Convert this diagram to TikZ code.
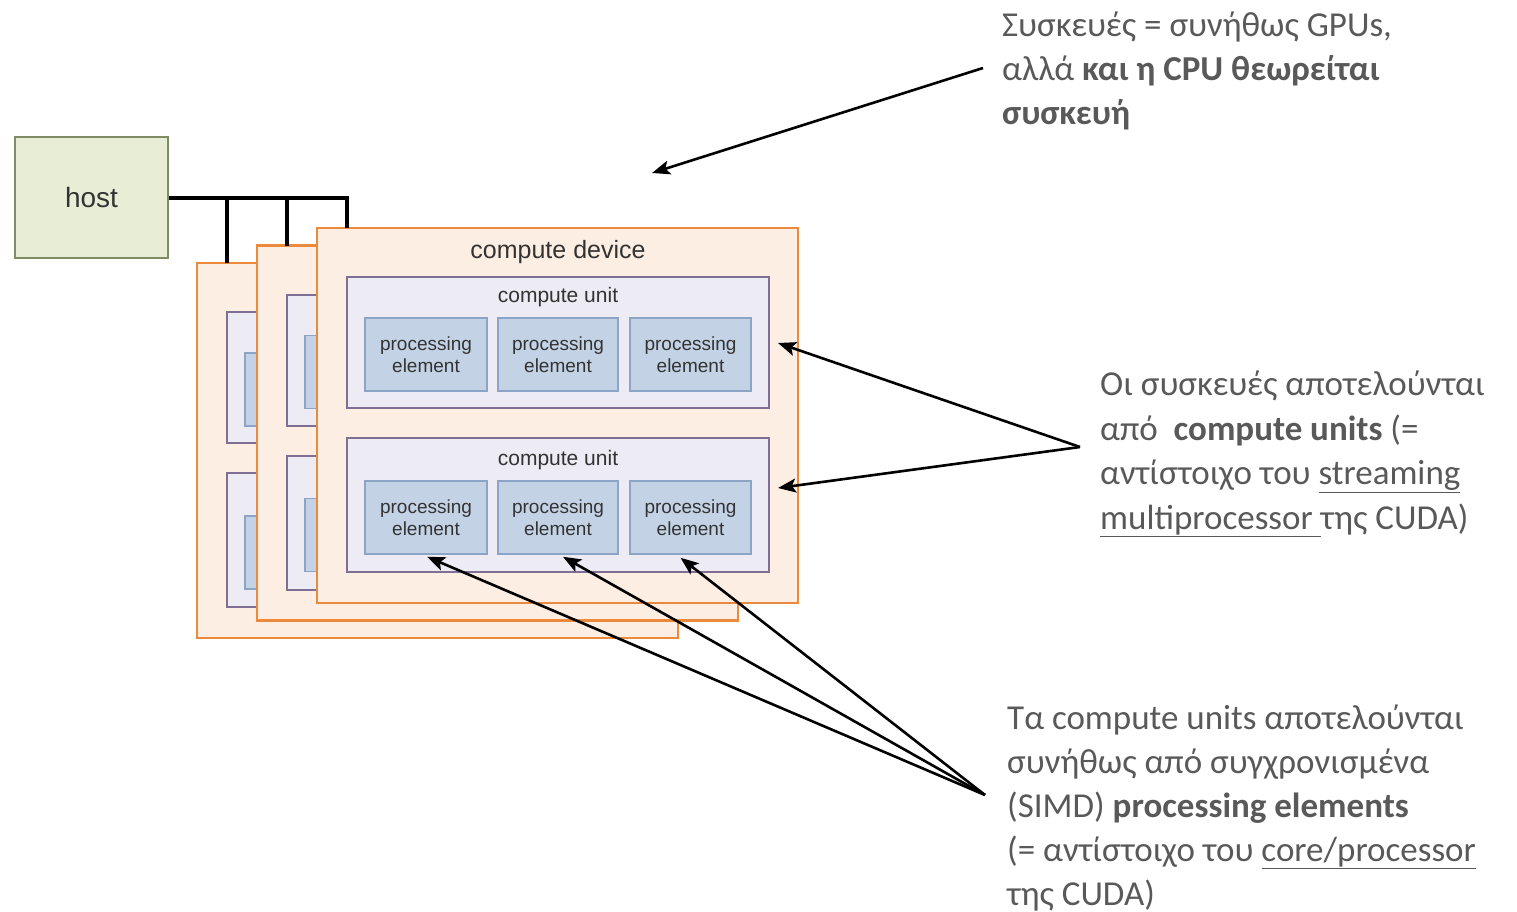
\documentclass[tikz,border=0pt]{standalone}
\usepackage{fontspec}
\setmainfont{Liberation Sans}
\newfontfamily\annfont{Carlito}
\usetikzlibrary{arrows.meta,calc}
\definecolor{hostfill}{HTML}{E8EDD5}
\definecolor{hostdraw}{HTML}{7F8C63}
\definecolor{cardfill}{HTML}{FDEEE3}
\definecolor{carddraw}{HTML}{EB8A3D}
\definecolor{cufill}{HTML}{EDEBF3}
\definecolor{cudraw}{HTML}{7F6F95}
\definecolor{pefill}{HTML}{C4D2E6}
\definecolor{pedraw}{HTML}{8CA5C6}
\definecolor{dtext}{HTML}{333333}
\definecolor{ann}{HTML}{595959}
\tikzset{
  hostbox/.style={draw=hostdraw,fill=hostfill,line width=2pt,minimum width=153pt,minimum height=121pt,inner sep=0pt,text=dtext,font=\fontsize{28}{32}\selectfont},
  cardbox/.style={draw=carddraw,fill=cardfill,line width=2.5pt},
  cubox/.style={draw=cudraw,fill=cufill,line width=2pt},
  pebox/.style={draw=pedraw,fill=pefill,line width=1.5pt,inner sep=0pt,minimum height=73pt,align=center,text=dtext,font=\fontsize{19}{22}\selectfont},
  lbl/.style={inner sep=0pt,text=dtext},
  bus/.style={line width=4pt,black},
  pointer/.style={line width=2.6pt,black,-{Stealth[length=18pt,width=14pt,inset=4pt]}},
  anntext/.style={anchor=base west,inner sep=0pt,text=ann,font=\annfont\fontsize{35}{40}\selectfont},
}
% #1,#2: top-left corner; #3: name prefix; #4: labels (1) or none (0)
\newcommand{\devicecard}[4]{%
\begin{scope}[shift={(#1,#2)}]
  \path[cardbox] (0,0) rectangle (481,375);
  \coordinate (#3-port) at (30,0);
  \path[cubox] (30,49) rectangle (452,180);
  \path[cubox] (30,210) rectangle (452,344);
  \ifnum#4=1
    \node[lbl,font=\fontsize{25}{28}\selectfont] (#3-dev) at (241,24) {compute device};
    \node[lbl,font=\fontsize{21}{24}\selectfont] (#3-cua) at (241,69) {compute unit};
    \node[lbl,font=\fontsize{21}{24}\selectfont] (#3-cub) at (241,232) {compute unit};
    \node[pebox,minimum width=122pt] (#3-pa1) at (109,126.5) {processing\\element};
    \node[pebox,minimum width=120pt] (#3-pa2) at (241,126.5) {processing\\element};
    \node[pebox,minimum width=121pt] (#3-pa3) at (373.5,126.5) {processing\\element};
    \node[pebox,minimum width=122pt] (#3-pb1) at (109,289.5) {processing\\element};
    \node[pebox,minimum width=120pt] (#3-pb2) at (241,289.5) {processing\\element};
    \node[pebox,minimum width=121pt] (#3-pb3) at (373.5,289.5) {processing\\element};
  \else
    \node[pebox,minimum width=122pt] (#3-pa1) at (109,126.5) {};
    \node[pebox,minimum width=122pt] (#3-pb1) at (109,289.5) {};
  \fi
\end{scope}}
\begin{document}
\begin{tikzpicture}[x=1pt,y=-1pt]
\useasboundingbox[fill=white] (0,0) rectangle (1517,911);
% host
\node[hostbox] (host) at (91.5,197.5) {host};
% device cards, back to front
\devicecard{197}{263}{b}{0}
\devicecard{257}{245.5}{m}{0}
\devicecard{317}{228}{f}{1}
% bus
\draw[bus] (host.east) -| (f-port);
\draw[bus] (b-port) -- (b-port |- host.east);
\draw[bus] (m-port) -- (m-port |- host.east);
% annotations
\node[anntext] (a1) at (1002,36) {Συσκευές = συνήθως GPUs,};
\node[anntext] (a2) at (1002,80) {αλλά \textbf{και η CPU θεωρείται}};
\node[anntext] (a3) at (1002,124) {\textbf{συσκευή}};
\node[anntext] (b1) at (1100,395) {Οι συσκευές αποτελούνται};
\node[anntext] (b2) at (1100,440) {από\ \ \textbf{compute units} (=};
\node[anntext] (b3) at (1100,484.5) {αντίστοιχο του \underline{streaming}};
\node[anntext] (b4) at (1100,529) {\underline{multiprocessor }της CUDA)};
\node[anntext] (c1) at (1007,729) {Τα compute units αποτελούνται};
\node[anntext] (c2) at (1007,773) {συνήθως από συγχρονισμένα};
\node[anntext] (c3) at (1007,817) {(SIMD) \textbf{processing elements}};
\node[anntext] (c4) at (1007,861) {(= αντίστοιχο του \underline{core/processor}};
\node[anntext] (c5) at (1007,905) {της CUDA)};
% pointer origins and targets
\coordinate (s1) at (983,68);
\coordinate (t1) at (652,173);
\coordinate (s2) at (1080,447);
\coordinate (t2a) at ($(f-cua.center)+(220,46)$);
\coordinate (t2b) at ($(f-cub.center)+(220,28)$);
\coordinate (s3) at (985,795);
\coordinate (t3a) at ($(f-pb1.south)+(1,2)$);
\coordinate (t3b) at ($(f-pb2.south)+(5,2)$);
\coordinate (t3c) at ($(f-pb3.south)+(-10,3)$);
\draw[pointer] (s1) -- (t1);
\draw[pointer] (s2) -- (t2a);
\draw[pointer] (s2) -- (t2b);
\draw[pointer] (s3) -- (t3a);
\draw[pointer] (s3) -- (t3b);
\draw[pointer] (s3) -- (t3c);
\end{tikzpicture}
\end{document}
